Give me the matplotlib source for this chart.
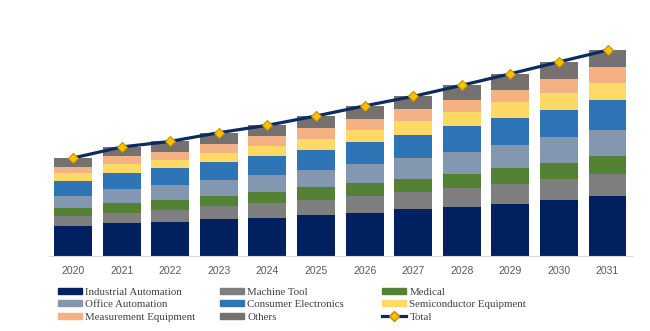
import matplotlib.pyplot as plt
import numpy as np
from matplotlib.patches import Patch
from matplotlib.lines import Line2D

years = ['2020', '2021', '2022', '2023', '2024', '2025', '2026', '2027', '2028', '2029', '2030', '2031']

# segment heights (no axis scale shown)
industrial = [30, 33, 34, 36.7, 38.3, 41.3, 43.3, 46.7, 49, 52.3, 55.7, 59.7]
machine_tool = [10, 10, 12.3, 13, 14.7, 14.3, 16.7, 17.3, 19, 19.3, 21.7, 22]
medical = [8, 9.5, 9.3, 10, 11, 13.3, 13, 13.3, 14.3, 16.3, 16, 18]
office = [12, 14, 15, 16, 16.7, 16.7, 18.7, 20.7, 21.7, 23.3, 25.7, 26]
consumer = [15, 16.5, 17.3, 18.3, 19.3, 20.7, 22.3, 23.3, 25.7, 27, 27.3, 30]
semicon = [8, 8.7, 8.3, 9, 9.7, 11, 11.7, 13.3, 14.3, 15.7, 17, 17.7]
measurement = [6, 8, 7.7, 8.7, 10, 10.7, 11.7, 12, 11.7, 12.3, 14, 15.7]
others = [9, 9.3, 10.7, 11.6, 11, 12, 12.7, 13, 15, 16, 16.7, 16.7]

series = [
    ('Industrial Automation', industrial, '#002060'),
    ('Machine Tool', machine_tool, '#7f7f7f'),
    ('Medical', medical, '#548235'),
    ('Office Automation', office, '#8497b0'),
    ('Consumer Electronics', consumer, '#2e75b6'),
    ('Semiconductor Equipment', semicon, '#ffd966'),
    ('Measurement Equipment', measurement, '#f4b183'),
    ('Others', others, '#767171'),
]

fig = plt.figure(figsize=(6.5, 3.31), dpi=100)
ax = fig.add_axes([0.075, 0.2266, 0.897, 0.6526])

x = np.arange(len(years))
bottom = np.zeros(len(years))
for name, vals, col in series:
    ax.bar(x, vals, width=0.78, bottom=bottom, color=col, label=name, zorder=2)
    bottom += np.array(vals)

total = bottom
ax.plot(x, total, color='#0d2b5e', lw=2.3, marker='D', markersize=5.5,
        markerfacecolor='#ffc000', markeredgecolor='#bf9000', markeredgewidth=0.8, zorder=3)

ax.set_xlim(-0.5, len(years) - 0.5)
ax.set_ylim(0, 216)
ax.set_xticks(x)
ax.set_xticklabels(years, fontsize=7.5, color='#595959', family='Liberation Sans')
ax.tick_params(axis='x', length=0, pad=7)
ax.set_yticks([])
for s in ['top', 'right', 'left']:
    ax.spines[s].set_visible(False)
ax.spines['bottom'].set_color('#d9d9d9')

handles = [Patch(color=c) for _, _, c in series]
handles.append(Line2D([], [], color='#0d2b5e', lw=2.3, marker='D', markersize=5,
                      markerfacecolor='#ffc000', markeredgecolor='#bf9000'))
labels = [n for n, _, _ in series] + ['Total']

cols = [[0, 3, 6], [1, 4, 7], [2, 5, 8]]
xs = [61, 223, 385]
for col, px in zip(cols, xs):
    fig.legend([handles[i] for i in col], [labels[i] for i in col],
               loc='upper left', bbox_to_anchor=(px / 650 - 0.004, 1 - 288 / 331),
               frameon=False, prop={'family': 'Liberation Serif', 'size': 7.8},
               handlelength=2.2, handleheight=0.45, handletextpad=0.3,
               labelspacing=0.3, borderpad=0, borderaxespad=0,
               labelcolor='#404040')

fig.savefig('out.png', dpi=100)
